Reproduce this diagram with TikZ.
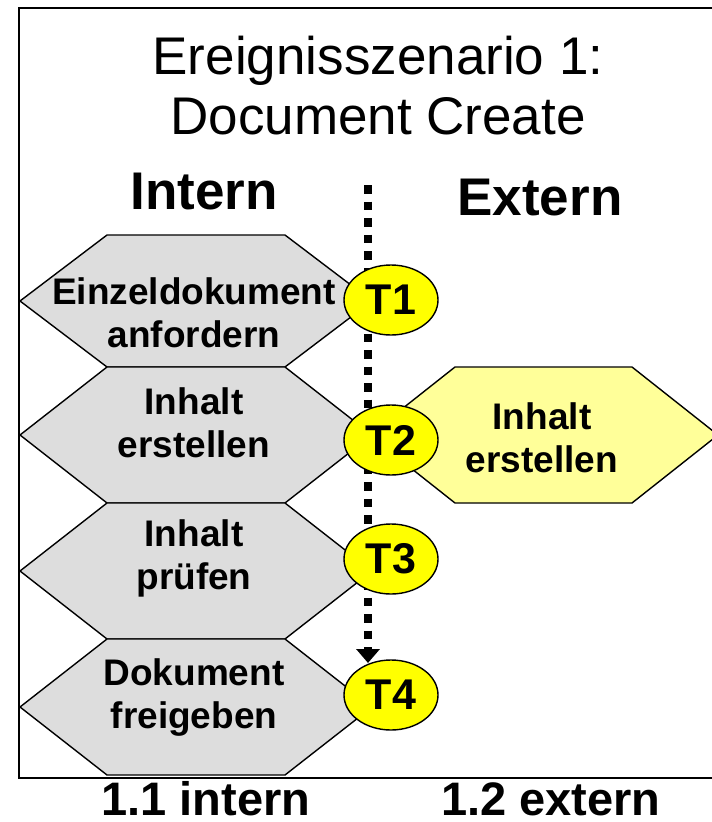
\documentclass[tikz,border=0pt]{standalone}
\usepackage{fontspec}
\setmainfont{Liberation Sans}
\usetikzlibrary{arrows.meta,backgrounds,shapes.geometric}

\definecolor{hexgrau}{HTML}{DDDDDD}
\definecolor{hexgelb}{HTML}{FFFF99}
\definecolor{markgelb}{HTML}{FFFF00}

\tikzset{
  every node/.style={inner sep=0pt, outer sep=0pt},
  stepgrau/.style={draw=black, line width=1.4pt, fill=hexgrau},
  stepgelb/.style={draw=black, line width=1.4pt, fill=hexgelb},
  % anchor=base sits on the baseline of the last line
  steptext/.style={font=\fontsize{37}{43}\selectfont\bfseries, align=center, anchor=base},
  tmark/.style={ellipse, draw=black, line width=1.4pt, fill=markgelb,
    minimum width=94pt, minimum height=70pt,
    font=\fontsize{43}{43}\selectfont\bfseries},
  titeltext/.style={font=\fontsize{53}{60}\selectfont, anchor=base},
  spaltentext/.style={font=\fontsize{53}{60}\selectfont\bfseries, anchor=base},
  fusstext/.style={font=\fontsize{47}{50}\selectfont\bfseries, anchor=base},
  ablauf/.style={line width=8pt, dash pattern=on 8.5pt off 8pt,
    -{Triangle[width=23pt,length=14pt]}},
  rahmen/.style={draw=black, line width=1.6pt}
}

% hexagon around the current origin: style, half width, inset, half height
\newcommand\sechseck[4]{%
  \draw[#1] (-#2,0) -- (-#2+#3,-#4) -- (#2-#3,-#4) -- (#2,0)
    -- (#2-#3,#4) -- (-#2+#3,#4) -- cycle;}

\begin{document}
\begin{tikzpicture}[x=1pt,y=-1pt]
\useasboundingbox (0,0) rectangle (712,822);
\clip (0,0) rectangle (712,822);

% title and column heads
\node[titeltext] (titel1) at (378,74) {Ereignisszenario 1:};
\node[titeltext] (titel2) at (378,134) {Document Create};
\node[spaltentext] (intern) at (204,209) {Intern};
\node[spaltentext] (extern) at (540,215) {Extern};

% internal process steps
\begin{scope}[shift={(196,301)}]\sechseck{stepgrau}{176}{87}{66}\end{scope}
\begin{scope}[shift={(196,435)}]\sechseck{stepgrau}{176}{87}{68}\end{scope}
\begin{scope}[shift={(196,571)}]\sechseck{stepgrau}{176}{87}{68}\end{scope}
\begin{scope}[shift={(196,707)}]\sechseck{stepgrau}{176}{87}{68}\end{scope}
% external process step
\begin{scope}[shift={(543.5,435)}]\sechseck{stepgelb}{174.5}{86}{68}\end{scope}

\node[steptext] (s1) at (194,347) {Einzeldokument\\anfordern};
\node[steptext] (s2) at (194,457) {Inhalt\\erstellen};
\node[steptext] (s3) at (194,589) {Inhalt\\prüfen};
\node[steptext] (s4) at (194,728) {Dokument\\freigeben};
\node[steptext] (e2) at (542,472) {Inhalt\\erstellen};

% transitions
\node[tmark] (t1) at (391,300) {T1};
\node[tmark] (t2) at (391,440) {T2};
\node[tmark] (t3) at (391,559) {T3};
\node[tmark] (t4) at (391,695) {T4};

% frame and time line behind everything
\coordinate (start) at (368,185);
\begin{pgfonlayer}{background}
  \draw[rahmen] (19,8) rectangle (740,778);
  \draw[ablauf] (start) -- ([yshift=-3pt]start |- t4.north);
\end{pgfonlayer}

% swimlane captions
\node[fusstext] (lane1) at (206,815) {1.1 intern};
\node[fusstext] (lane2) at (551,815) {1.2 extern};
\end{tikzpicture}
\end{document}
